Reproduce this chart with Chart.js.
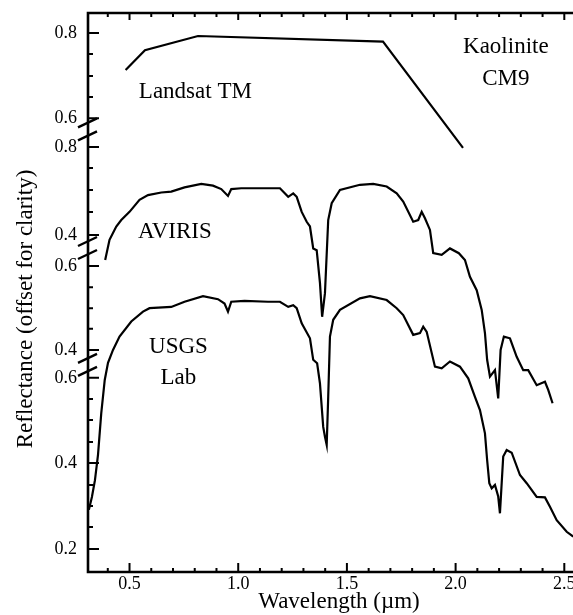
<!DOCTYPE html>
<html>
<head>
<meta charset="utf-8">
<script src="https://cdn.jsdelivr.net/npm/chart.js@4"></script>
<style>
  html, body { margin: 0; padding: 0; background: #fff; overflow: hidden; }
</style>
</head>
<body>
<canvas id="chart" width="573" height="615"></canvas>
<script>
// wavelengths in µm, reflectance in the plot's offset units
const landsatWl = [0.482, 0.571, 0.815, 1.666, 2.034];
const landsatR = [1.314, 1.360, 1.393, 1.380, 1.133];

const avirisWl = [0.388,0.408,0.439,0.462,0.500,0.546,0.585,0.646,0.692,0.753,
  0.830,0.884,0.922,0.953,0.968,1.014,1.137,1.192,1.230,1.253,
  1.269,1.292,1.315,1.330,1.345,1.361,1.376,1.386,1.399,1.414,
  1.430,1.468,1.560,1.621,1.683,1.729,1.759,1.805,1.828,1.844,
  1.859,1.882,1.897,1.936,1.974,2.015,2.043,2.066,2.097,2.120,
  2.135,2.145,2.158,2.181,2.196,2.207,2.222,2.250,2.281,2.311,
  2.334,2.373,2.411,2.426,2.446];
const avirisR = [0.872,0.919,0.950,0.965,0.984,1.012,1.023,1.029,1.031,1.041,
  1.049,1.045,1.037,1.021,1.037,1.039,1.039,1.039,1.019,1.027,
  1.019,0.984,0.961,0.950,0.899,0.895,0.819,0.740,0.795,0.965,
  1.004,1.035,1.047,1.049,1.043,1.027,1.008,0.961,0.965,0.984,
  0.969,0.942,0.888,0.884,0.899,0.888,0.872,0.833,0.802,0.756,
  0.702,0.640,0.601,0.616,0.550,0.663,0.694,0.690,0.647,0.616,
  0.616,0.581,0.589,0.570,0.539];

const usgsWl = [0.313,0.327,0.341,0.355,0.370,0.386,0.401,0.424,0.454,0.508,
  0.562,0.592,0.692,0.753,0.838,0.907,0.937,0.953,0.968,1.029,
  1.137,1.192,1.230,1.253,1.269,1.292,1.330,1.345,1.363,1.376,
  1.391,1.399,1.407,1.414,1.422,1.437,1.468,1.560,1.606,1.683,
  1.729,1.759,1.805,1.836,1.851,1.867,1.905,1.936,1.974,2.020,
  2.058,2.089,2.112,2.135,2.145,2.155,2.166,2.181,2.196,2.204,
  2.219,2.235,2.258,2.296,2.327,2.373,2.411,2.434,2.465,2.511,
  2.541];
const usgsR = [0.291,0.321,0.360,0.419,0.516,0.593,0.633,0.663,0.694,0.729,
  0.752,0.760,0.763,0.775,0.788,0.781,0.771,0.752,0.775,0.777,
  0.775,0.775,0.763,0.767,0.760,0.725,0.690,0.640,0.632,0.585,
  0.484,0.461,0.442,0.554,0.694,0.733,0.756,0.783,0.788,0.779,
  0.760,0.744,0.698,0.702,0.717,0.705,0.624,0.620,0.636,0.624,
  0.597,0.554,0.523,0.469,0.407,0.353,0.341,0.349,0.322,0.283,
  0.415,0.430,0.424,0.372,0.353,0.321,0.320,0.298,0.267,0.240,
  0.229];

// axis ticks
const xMajor = [0.5, 1.0, 1.5, 2.0, 2.5];
const xTickLabels = ['0.5', '1.0', '1.5', '2.0', '2.5'];
const yTickPos = [0.200,0.251,0.300,0.349,0.400,0.449,0.500,0.549,0.598,
  0.663,0.712,0.760,0.809,0.858,
  0.930,0.984,1.035,1.086,1.135,
  1.202,1.251,1.300,1.351,1.400];
const yTickText = ['0.2','','','','0.4','','','','0.6',
  '0.4','','','','0.6',
  '0.4','','','','0.8',
  '0.6','','','','0.8'];
const yBreaks = [1.176, 0.900, 0.628];

const notes = [
  { text: 'Landsat TM', x: 0.803, y: 1.249 },
  { text: 'Kaolinite', x: 2.231, y: 1.353 },
  { text: 'CM9', x: 2.231, y: 1.279 },
  { text: 'AVIRIS', x: 0.709, y: 0.923 },
  { text: 'USGS', x: 0.725, y: 0.656 },
  { text: 'Lab', x: 0.725, y: 0.584 }
];

const FONT = 'Liberation Serif';
Chart.defaults.font.family = FONT;
Chart.defaults.color = '#000';

const xTicks = [];
for (let i = 4; i <= 25; i++) xTicks.push(i / 10);

function pts(xs, ys) {
  return xs.map((x, i) => ({ x: x, y: ys[i] }));
}

function spectrum(xs, ys) {
  return {
    data: pts(xs, ys),
    borderColor: '#000',
    borderWidth: 2.2,
    pointRadius: 0,
    tension: 0,
    fill: false
  };
}

// no extra room for the outer tick labels
function noPadding(s) {
  s.paddingLeft = 0;
  s.paddingRight = 0;
  s.paddingTop = 0;
  s.paddingBottom = 0;
}

const framePlugin = {
  id: 'frame',
  afterDraw(chart) {
    const ctx = chart.ctx;
    const a = chart.chartArea;
    const xs = chart.scales.x, ys = chart.scales.y;
    ctx.save();
    ctx.strokeStyle = '#000';
    ctx.fillStyle = '#000';

    // inward tick marks
    ctx.lineWidth = 2;
    ctx.beginPath();
    xs.ticks.forEach(t => {
      const px = xs.getPixelForValue(t.value);
      const major = xMajor.some(m => Math.abs(m - t.value) < 1e-6);
      ctx.moveTo(px, a.bottom);
      ctx.lineTo(px, a.bottom - (major ? 9 : 4));
      ctx.moveTo(px, a.top);
      ctx.lineTo(px, a.top + (major ? 7 : 4));
    });
    ys.ticks.forEach((t, i) => {
      const py = ys.getPixelForValue(t.value);
      ctx.moveTo(a.left, py);
      ctx.lineTo(a.left + (yTickText[i] ? 11 : 5), py);
    });
    ctx.stroke();

    // axis lines
    ctx.lineWidth = 2.6;
    ctx.beginPath();
    ctx.moveTo(a.right + 2, a.top);
    ctx.lineTo(a.left, a.top);
    ctx.lineTo(a.left, a.bottom);
    ctx.lineTo(a.right + 2, a.bottom);
    ctx.stroke();

    // axis breaks
    ctx.lineWidth = 2.4;
    ctx.beginPath();
    yBreaks.forEach(b => {
      const cy = ys.getPixelForValue(b);
      [-6.5, 6.5].forEach(d => {
        ctx.moveTo(a.left - 10, cy + d + 4.5);
        ctx.lineTo(a.left + 9, cy + d - 4.5);
      });
    });
    ctx.stroke();

    // labels on the plot
    ctx.font = '23px "' + FONT + '"';
    ctx.textAlign = 'center';
    ctx.textBaseline = 'alphabetic';
    notes.forEach(n => {
      ctx.fillText(n.text, xs.getPixelForValue(n.x), ys.getPixelForValue(n.y));
    });

    // axis titles
    ctx.fillText('Wavelength (µm)', 339, 608);
    ctx.translate(32, 309);
    ctx.rotate(-Math.PI / 2);
    ctx.fillText('Reflectance (offset for clarity)', 0, 0);
    ctx.restore();
  }
};

new Chart(document.getElementById('chart'), {
  type: 'line',
  data: {
    datasets: [
      spectrum(landsatWl, landsatR),
      spectrum(avirisWl, avirisR),
      spectrum(usgsWl, usgsR)
    ]
  },
  options: {
    responsive: false,
    devicePixelRatio: 1,
    animation: false,
    layout: { padding: { top: 13, right: 0, left: 0, bottom: 0 } },
    plugins: { legend: { display: false }, tooltip: { enabled: false } },
    scales: {
      x: {
        type: 'linear',
        min: 0.309,
        max: 2.54,
        grid: { display: false, drawTicks: false },
        border: { display: false },
        afterBuildTicks: s => { s.ticks = xTicks.map(v => ({ value: v })); },
        afterFit: s => { s.height = 43; noPadding(s); },
        ticks: {
          autoSkip: false,
          maxRotation: 0,
          padding: 1,
          font: { size: 18 },
          callback: v => {
            const k = xMajor.findIndex(m => Math.abs(m - v) < 1e-6);
            return k >= 0 ? xTickLabels[k] : '';
          }
        }
      },
      y: {
        type: 'linear',
        min: 0.1465,
        max: 1.4465,
        grid: { display: false, drawTicks: false },
        border: { display: false },
        afterBuildTicks: s => { s.ticks = yTickPos.map(v => ({ value: v })); },
        afterFit: s => { s.width = 88; noPadding(s); },
        ticks: {
          autoSkip: false,
          padding: 11,
          font: { size: 18 },
          callback: (v, i) => yTickText[i]
        }
      }
    }
  },
  plugins: [framePlugin]
});
</script>
</body>
</html>
